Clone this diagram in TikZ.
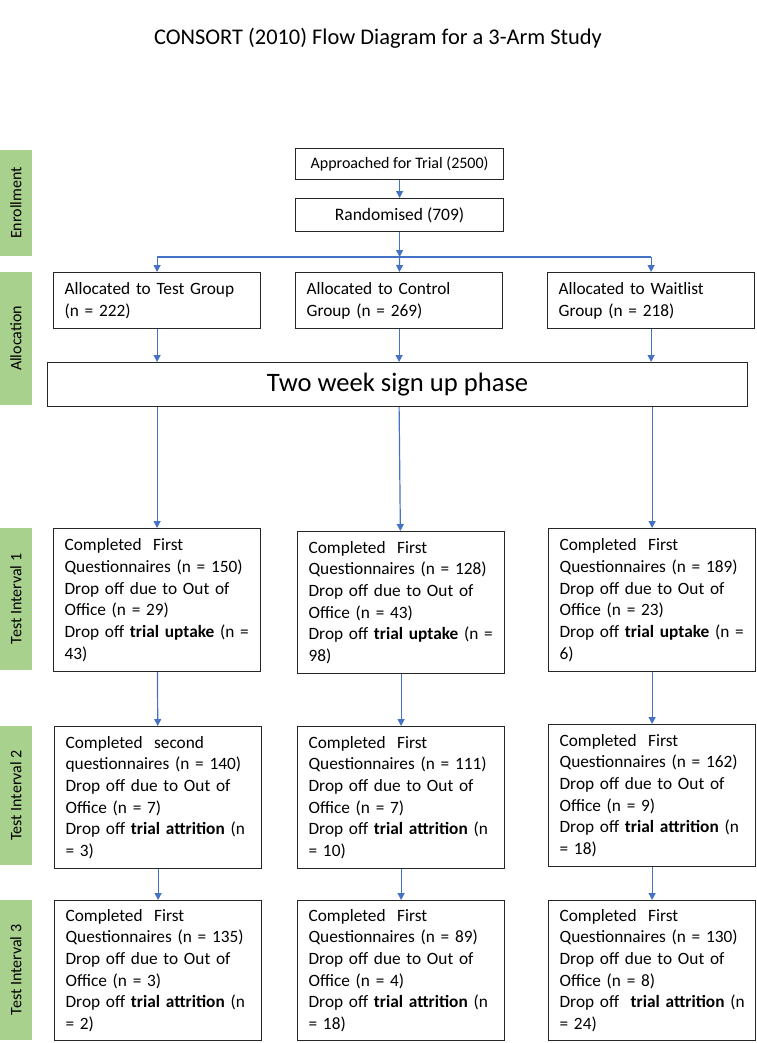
\documentclass[tikz,border=0pt]{standalone}
\usepackage{fontspec}
\setmainfont{Carlito}
\usetikzlibrary{arrows.meta}
\definecolor{arrowblue}{HTML}{4472C4}
\definecolor{sidegreen}{HTML}{A9D18E}
\definecolor{boxline}{HTML}{262626}
\newcommand{\bl}[1]{\mbox{#1}}
\tikzset{
  flowbox/.style={draw=boxline, line width=1.2pt, fill=white, anchor=north west,
    align=left, text width=185pt, inner xsep=11pt, inner ysep=0pt,
    font=\fontsize{17.3}{21.7}\selectfont},
  topbox/.style={draw=boxline, line width=1.2pt, fill=white, anchor=north west,
    align=center, minimum width=208pt, inner sep=0pt,
    font=\fontsize{16}{19}\selectfont},
  sidebox/.style={fill=sidegreen, rotate=90, minimum height=32pt, inner sep=0pt,
    font=\fontsize{16}{19}\selectfont},
  flowarrow/.style={draw=arrowblue, line width=1.2pt, -{Triangle[width=7pt,length=7pt]}},
  flowline/.style={draw=arrowblue, line width=1.2pt},
}
\begin{document}
\begin{tikzpicture}[x=1pt,y=-1pt]
\useasboundingbox (0,0) rectangle (756,1043);

% title
\node[font=\fontsize{22.4}{26}\selectfont] (title) at (378,38) {CONSORT (2010) Flow Diagram for a 3-Arm Study};

% side labels
\node[sidebox, minimum width=106pt] (enr) at (16,203) {Enrollment};
\node[sidebox, minimum width=133pt] (all) at (16,338.5) {Allocation};
\node[sidebox, minimum width=142pt] (ti1) at (16,599) {Test Interval 1};
\node[sidebox, minimum width=139pt] (ti2) at (16,795.5) {Test Interval 2};
\node[sidebox, minimum width=140pt] (ti3) at (16,970) {Test Interval 3};

% enrollment
\node[topbox, minimum height=31pt] (appr) at (295,148) {Approached for Trial (2500)};
\node[topbox, minimum height=33pt, font=\fontsize{17.5}{21}\selectfont] (rand) at (295,198) {Randomised (709)};

% allocation
\node[flowbox, minimum height=56pt] (aT) at (53,272) {\bl{Allocated to Test Group}\\\bl{(n = 222)}};
\node[flowbox, minimum height=56pt] (aC) at (295,272) {\bl{Allocated to Control}\\\bl{Group (n = 269)}};
\node[flowbox, minimum height=56pt] (aW) at (547,272) {\bl{Allocated to Waitlist}\\\bl{Group (n = 218)}};

\node[draw=boxline, line width=1.2pt, fill=white, anchor=north west, minimum width=700pt,
  minimum height=44pt, inner sep=0pt, font=\fontsize{26.6}{30}\selectfont] (sign) at (47,362) {Two week sign up phase};

% test interval 1
\node[flowbox, minimum height=143pt] (t1T) at (53,528) {\bl{Completed\ \ First}\\\bl{Questionnaires (n = 150)}\\\bl{Drop off due to Out of}\\\bl{Office (n = 29)}\\\bl{Drop off \textbf{trial uptake} (n =}\\\bl{43)}};
\node[flowbox, minimum height=142pt] (t1C) at (297,531) {\bl{Completed\ \ First}\\\bl{Questionnaires (n = 128)}\\\bl{Drop off due to Out of}\\\bl{Office (n = 43)}\\\bl{Drop off \textbf{trial uptake} (n =}\\\bl{98)}};
\node[flowbox, minimum height=143pt] (t1W) at (548,528) {\bl{Completed\ \ First}\\\bl{Questionnaires (n = 189)}\\\bl{Drop off due to Out of}\\\bl{Office (n = 23)}\\\bl{Drop off \textbf{trial uptake} (n =}\\\bl{6)}};

% test interval 2
\node[flowbox, minimum height=142pt] (t2T) at (54,726) {\bl{Completed\ \ second}\\\bl{questionnaires (n = 140)}\\\bl{Drop off due to Out of}\\\bl{Office (n = 7)}\\\bl{Drop off \textbf{trial attrition} (n}\\\bl{= 3)}};
\node[flowbox, minimum height=142pt] (t2C) at (297,726) {\bl{Completed\ \ First}\\\bl{Questionnaires (n = 111)}\\\bl{Drop off due to Out of}\\\bl{Office (n = 7)}\\\bl{Drop off \textbf{trial attrition} (n}\\\bl{= 10)}};
\node[flowbox, minimum height=142pt] (t2W) at (548,724) {\bl{Completed\ \ First}\\\bl{Questionnaires (n = 162)}\\\bl{Drop off due to Out of}\\\bl{Office (n = 9)}\\\bl{Drop off \textbf{trial attrition} (n}\\\bl{= 18)}};

% test interval 3
\node[flowbox, minimum height=140pt] (t3T) at (54,900) {\bl{Completed\ \ First}\\\bl{Questionnaires (n = 135)}\\\bl{Drop off due to Out of}\\\bl{Office (n = 3)}\\\bl{Drop off \textbf{trial attrition} (n}\\\bl{= 2)}};
\node[flowbox, minimum height=140pt] (t3C) at (297,900) {\bl{Completed\ \ First}\\\bl{Questionnaires (n = 89)}\\\bl{Drop off due to Out of}\\\bl{Office (n = 4)}\\\bl{Drop off \textbf{trial attrition} (n}\\\bl{= 18)}};
\node[flowbox, minimum height=140pt] (t3W) at (548,900) {\bl{Completed\ \ First}\\\bl{Questionnaires (n = 130)}\\\bl{Drop off due to Out of}\\\bl{Office (n = 8)}\\\bl{Drop off\ \ \textbf{trial attrition} (n}\\\bl{= 24)}};

% connectors
\coordinate (split) at (rand.south |- 0,257);
\coordinate (splitL) at (aT.north |- split);
\coordinate (splitR) at (aW.north |- split);
\path[flowarrow] (appr) -- (rand);
\path[flowarrow] (rand) -- (split);
\path[flowline] (splitL) -- (splitR);
\path[flowarrow] (splitL) -- (aT);
\path[flowarrow] (split) -- (aC);
\path[flowarrow] (splitR) -- (aW);

\path[flowarrow] (aT) -- (aT |- sign.north);
\path[flowarrow] (aC) -- (aC |- sign.north);
\path[flowarrow] (aW) -- (aW |- sign.north);

\path[flowarrow] (sign.south -| t1T) -- (t1T);
\path[flowarrow] (sign.south -| aC) -- (t1C);
\path[flowarrow] (sign.south -| t1W) -- (t1W);

\path[flowarrow] (t1T) -- (t2T);
\path[flowarrow] (t1C) -- (t2C);
\path[flowarrow] (t1W) -- (t2W);

\path[flowarrow] (t2T) -- (t3T);
\path[flowarrow] (t2C) -- (t3C);
\path[flowarrow] (t2W) -- (t3W);
\end{tikzpicture}
\end{document}
